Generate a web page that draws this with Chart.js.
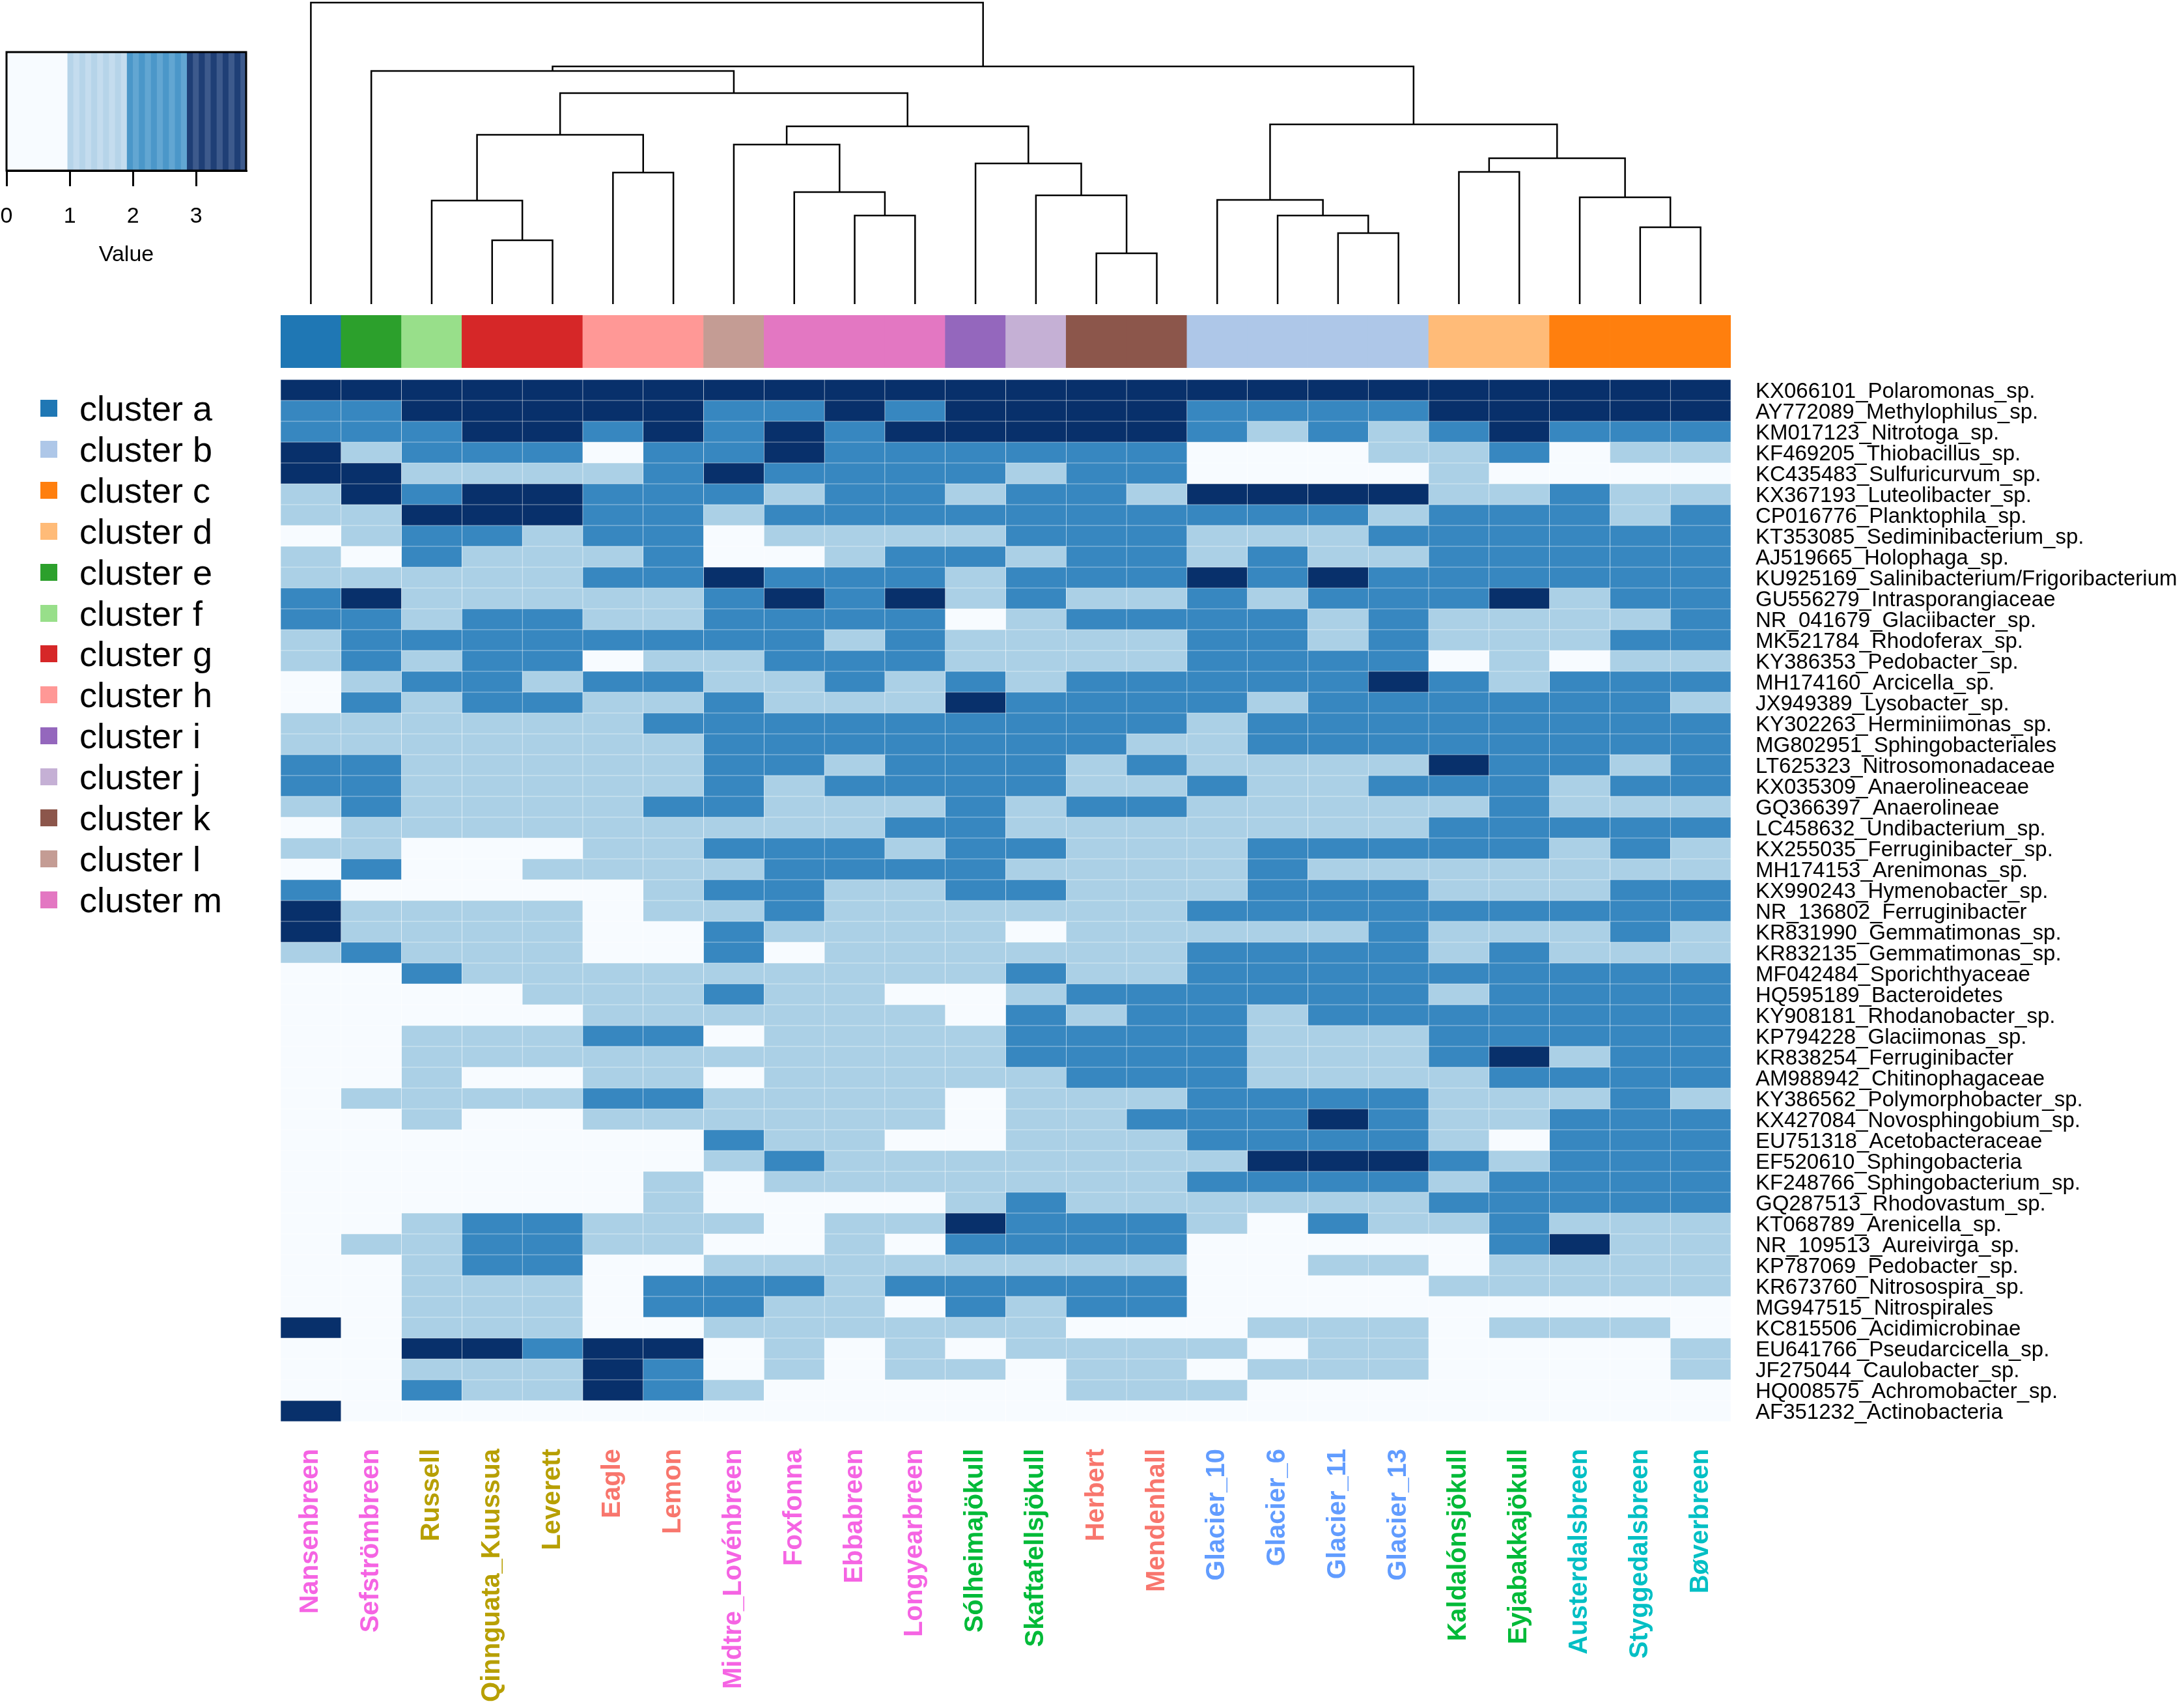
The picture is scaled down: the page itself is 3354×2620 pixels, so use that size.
<!DOCTYPE html>
<html>
<head>
<meta charset="utf-8">
<script src="https://cdn.jsdelivr.net/npm/chart.js@4.4.1/dist/chart.umd.min.js"></script>
<style>
  html, body { margin: 0; padding: 0; background: #fff; overflow: hidden; }
  #page { position: relative; width: 3354px; height: 2620px; font-family: "Liberation Sans", Arial, sans-serif; }
  canvas { position: absolute; }
  .leg { position: absolute; left: 62px; height: 64px; display: flex; align-items: center; font-size: 54px; color: #000; }
  .leg span { display: inline-block; width: 26px; height: 26px; margin-right: 34px; }
</style>
</head>
<body>
<div id="page">
  <canvas id="key" width="398" height="342" style="left:0;top:70px"></canvas>
  <canvas id="dendro" width="2227" height="467" style="left:431px;top:0"></canvas>
  <canvas id="clusterBar" width="2227" height="81" style="left:431px;top:484px"></canvas>
  <canvas id="heat" width="2923" height="2037" style="left:431px;top:583px"></canvas>
</div>
<script>
const FONT = '"Liberation Sans", Arial, sans-serif';
Chart.defaults.font.family = FONT;
Chart.defaults.color = '#000';

// Columns (glaciers), in dendrogram order
const colLabels = ["Nansenbreen","Sefströmbreen","Russell","Qinnguata_Kuussua","Leverett","Eagle","Lemon",
  "Midtre_Lovénbreen","Foxfonna","Ebbabreen","Longyearbreen","Sólheimajökull","Skaftafellsjökull","Herbert",
  "Mendenhall","Glacier_10","Glacier_6","Glacier_11","Glacier_13","Kaldalónsjökull","Eyjabakkajökull",
  "Austerdalsbreen","Styggedalsbreen","Bøverbreen"];
const colColors = ["#F564E3","#F564E3","#B79F00","#B79F00","#B79F00","#F8766D","#F8766D",
  "#F564E3","#F564E3","#F564E3","#F564E3","#00BA38","#00BA38","#F8766D",
  "#F8766D","#619CFF","#619CFF","#619CFF","#619CFF","#00BA38","#00BA38",
  "#00BFC4","#00BFC4","#00BFC4"];
const colClusters = ["a","e","f","g","g","h","h","l","m","m","m","i","j","k","k","b","b","b","b","d","d","c","c","c"];

// Cluster legend
const clusterNames = ["a","b","c","d","e","f","g","h","i","j","k","l","m"];
const clusterColors = ["#1f77b4","#aec7e8","#ff7f0e","#ffbb78","#2ca02c","#98df8a","#d62728",
  "#ff9896","#9467bd","#c5b0d5","#8c564b","#c49c94","#e377c2"];

// Rows (taxa)
const rowLabels = ["KX066101_Polaromonas_sp.","AY772089_Methylophilus_sp.","KM017123_Nitrotoga_sp.",
  "KF469205_Thiobacillus_sp.","KC435483_Sulfuricurvum_sp.","KX367193_Luteolibacter_sp.",
  "CP016776_Planktophila_sp.","KT353085_Sediminibacterium_sp.","AJ519665_Holophaga_sp.",
  "KU925169_Salinibacterium/Frigoribacterium","GU556279_Intrasporangiaceae","NR_041679_Glaciibacter_sp.",
  "MK521784_Rhodoferax_sp.","KY386353_Pedobacter_sp.","MH174160_Arcicella_sp.","JX949389_Lysobacter_sp.",
  "KY302263_Herminiimonas_sp.","MG802951_Sphingobacteriales","LT625323_Nitrosomonadaceae",
  "KX035309_Anaerolineaceae","GQ366397_Anaerolineae","LC458632_Undibacterium_sp.",
  "KX255035_Ferruginibacter_sp.","MH174153_Arenimonas_sp.","KX990243_Hymenobacter_sp.",
  "NR_136802_Ferruginibacter","KR831990_Gemmatimonas_sp.","KR832135_Gemmatimonas_sp.",
  "MF042484_Sporichthyaceae","HQ595189_Bacteroidetes","KY908181_Rhodanobacter_sp.",
  "KP794228_Glaciimonas_sp.","KR838254_Ferruginibacter","AM988942_Chitinophagaceae",
  "KY386562_Polymorphobacter_sp.","KX427084_Novosphingobium_sp.","EU751318_Acetobacteraceae",
  "EF520610_Sphingobacteria","KF248766_Sphingobacterium_sp.","GQ287513_Rhodovastum_sp.",
  "KT068789_Arenicella_sp.","NR_109513_Aureivirga_sp.","KP787069_Pedobacter_sp.",
  "KR673760_Nitrosospira_sp.","MG947515_Nitrospirales","KC815506_Acidimicrobinae",
  "EU641766_Pseudarcicella_sp.","JF275044_Caulobacter_sp.","HQ008575_Achromobacter_sp.",
  "AF351232_Actinobacteria"];

// Binned values (0-3), one line per row, one entry per column
const cellLevels = [
  [3,3,3,3,3,3,3,3,3,3,3,3,3,3,3,3,3,3,3,3,3,3,3,3],
  [2,2,3,3,3,3,3,2,2,3,2,3,3,3,3,2,2,2,2,3,3,3,3,3],
  [2,2,2,3,3,2,3,2,3,2,3,3,3,3,3,2,1,2,1,2,3,2,2,2],
  [3,1,2,2,2,0,2,2,3,2,2,2,2,2,2,0,0,0,1,1,2,0,1,1],
  [3,3,1,1,1,1,2,3,2,2,2,2,1,2,2,0,0,0,0,1,0,0,0,0],
  [1,3,2,3,3,2,2,2,1,2,2,1,2,2,1,3,3,3,3,1,1,2,1,1],
  [1,1,3,3,3,2,2,1,2,2,2,2,2,2,2,2,2,2,1,2,2,2,1,2],
  [0,1,2,2,1,2,2,0,1,1,1,1,2,2,2,1,1,1,2,2,2,2,2,2],
  [1,0,2,1,1,1,2,0,0,1,2,2,1,2,2,1,2,1,1,2,2,2,2,2],
  [1,1,1,1,1,2,2,3,2,2,2,1,2,2,2,3,2,3,2,2,2,2,2,2],
  [2,3,1,1,1,1,1,2,3,2,3,1,2,1,1,2,1,2,2,2,3,1,2,2],
  [2,2,1,2,2,1,1,2,2,2,2,0,1,2,2,2,2,1,2,1,1,1,1,2],
  [1,2,2,2,2,2,2,2,2,1,2,1,1,1,1,2,2,1,2,1,1,1,2,2],
  [1,2,1,2,2,0,1,1,2,2,2,1,1,1,1,2,2,2,2,0,1,0,1,1],
  [0,1,2,2,1,2,2,1,1,2,1,2,1,2,2,2,2,2,3,2,1,2,2,2],
  [0,2,1,2,2,1,1,2,1,1,1,3,2,2,2,2,1,2,2,2,2,2,2,1],
  [1,1,1,1,1,1,2,2,2,2,2,2,2,2,2,1,2,2,2,2,2,2,2,2],
  [1,1,1,1,1,1,1,2,2,2,2,2,2,2,1,1,2,2,2,2,2,2,2,2],
  [2,2,1,1,1,1,1,2,2,1,2,2,2,1,2,1,1,1,1,3,2,2,1,2],
  [2,2,1,1,1,1,1,2,1,2,2,2,2,1,1,2,1,1,2,2,2,1,2,2],
  [1,2,1,1,1,1,2,2,1,1,1,2,1,2,2,1,1,1,1,1,2,1,1,1],
  [0,1,1,1,1,1,1,1,1,1,2,2,1,1,1,1,1,1,1,2,2,2,2,2],
  [1,1,0,0,0,1,1,2,2,2,1,2,2,1,1,1,2,2,2,2,2,1,2,1],
  [0,2,0,0,1,1,1,1,2,2,2,2,1,1,1,1,2,1,1,1,1,1,1,1],
  [2,0,0,0,0,0,1,2,2,1,1,2,2,1,1,1,2,2,2,1,1,1,2,2],
  [3,1,1,1,1,0,1,1,2,1,1,1,1,1,1,2,2,2,2,2,2,2,2,2],
  [3,1,1,1,1,0,0,2,1,1,1,1,0,1,1,1,1,1,2,1,1,1,2,1],
  [1,2,1,1,1,0,0,2,0,1,1,1,1,1,1,2,2,2,2,1,2,1,1,1],
  [0,0,2,1,1,1,1,1,1,1,1,1,2,1,1,2,2,2,2,2,2,2,2,2],
  [0,0,0,0,1,1,1,2,1,1,0,0,1,2,2,2,2,2,2,1,2,2,2,2],
  [0,0,0,0,0,1,1,1,1,1,1,0,2,1,2,2,1,2,2,2,2,2,2,2],
  [0,0,1,1,1,2,2,0,1,1,1,1,2,2,2,2,1,1,1,2,2,2,2,2],
  [0,0,1,1,1,1,1,1,1,1,1,1,2,2,2,2,1,1,1,2,3,1,2,2],
  [0,0,1,0,0,1,1,0,1,1,1,1,1,2,2,2,1,1,1,1,2,2,2,2],
  [0,1,1,1,1,2,2,1,1,1,1,0,1,1,1,2,2,2,2,1,1,1,2,1],
  [0,0,1,0,0,1,1,1,1,1,1,0,1,1,2,2,2,3,2,1,1,2,2,2],
  [0,0,0,0,0,0,0,2,1,1,0,0,1,1,1,2,2,2,2,1,0,2,2,2],
  [0,0,0,0,0,0,0,1,2,1,1,1,1,1,1,1,3,3,3,2,1,2,2,2],
  [0,0,0,0,0,0,1,0,1,1,1,1,1,1,1,2,2,2,2,1,2,2,2,2],
  [0,0,0,0,0,0,1,0,0,0,0,1,2,1,1,1,1,1,1,2,2,2,2,2],
  [0,0,1,2,2,1,1,1,0,1,1,3,2,2,2,1,0,2,1,1,2,1,1,1],
  [0,1,1,2,2,1,1,0,0,1,0,2,2,2,2,0,0,0,0,0,2,3,1,1],
  [0,0,1,2,2,0,0,1,1,1,1,1,1,1,1,0,0,1,1,0,1,1,1,1],
  [0,0,1,1,1,0,2,2,2,1,2,2,2,2,2,0,0,0,0,1,1,1,1,1],
  [0,0,1,1,1,0,2,2,1,1,0,2,1,2,2,0,0,0,0,0,0,0,0,0],
  [3,0,1,1,1,0,0,1,1,1,1,1,1,0,0,0,1,1,1,0,1,1,1,0],
  [0,0,3,3,2,3,3,0,1,0,1,0,1,1,1,1,0,1,1,0,0,0,0,1],
  [0,0,1,1,1,3,2,0,1,0,1,1,0,1,1,0,1,1,1,0,0,0,0,1],
  [0,0,2,1,1,3,2,1,0,0,0,0,0,1,1,1,0,0,0,0,0,0,0,0],
  [3,0,0,0,0,0,0,0,0,0,0,0,0,0,0,0,0,0,0,0,0,0,0,0]
];
const levelColors = ["#f7fbff","#abd0e6","#3787c0","#08306b"];

// Column dendrogram, hclust style: negative = leaf (1-based), positive = earlier merge (1-based)
const dendroLeft   = [-14, -4, -18, -23, -10, -17, -3, -16, -22, -13, -9, -6, -20, -12, 13, -8, 7, 16, 8, 17, -2, 21, -1];
const dendroRight  = [-15, -5, -19, -24, -11,   3,  2,   6,   4,   1,  5, -7, -21,  10,  9, 11, 12, 14, 15, 18, 20, 19, 22];
const dendroHeight = [0.78,0.98,1.09,1.18,1.36,1.36,1.59,1.60,1.64,1.67,1.72,2.02,2.03,2.16,2.24,2.45,2.60,2.73,2.76,3.24,3.58,3.65,4.63];

// Colour key
const keyBreaks = [0, 0.96, 1.9, 2.85, 3.79];
const keyShades = [["#f7fbff"], ["#b6d4e9","#c4dcee"], ["#4b97c9","#62a6d2"], ["#1f3f76","#3d5a8c"]];
const keyTicks = [0, 1, 2, 3];

const noLegend = { legend: { display: false }, tooltip: { enabled: false } };
const hidden = { display: false };

// Legend for clusters
const page = document.getElementById("page");
clusterNames.forEach((n, i) => {
  const d = document.createElement("div");
  d.className = "leg";
  d.style.top = (595 + i * 62.9) + "px";
  d.innerHTML = '<span style="background:' + clusterColors[i] + '"></span>cluster ' + n;
  page.appendChild(d);
});

// Colour key
const keySets = [];
keyShades.forEach((shades, b) => {
  const n = shades.length === 1 ? 1 : 10;
  const step = (keyBreaks[b + 1] - keyBreaks[b]) / n;
  for (let s = 0; s < n; s++) {
    keySets.push({
      data: [[keyBreaks[b] + s * step, keyBreaks[b] + (s + 1) * step]],
      backgroundColor: shades[s % shades.length],
      borderWidth: 0, barPercentage: 1, categoryPercentage: 1, grouped: false
    });
  }
});
new Chart(document.getElementById("key"), {
  type: "bar",
  data: { labels: ["Value"], datasets: keySets },
  options: {
    indexAxis: "y", responsive: false, animation: false,
    layout: { padding: { left: 10, right: 20, top: 10, bottom: 0 } },
    plugins: noLegend,
    scales: {
      y: hidden,
      x: {
        type: "linear", min: keyBreaks[0], max: keyBreaks[keyBreaks.length - 1],
        afterBuildTicks: s => { s.ticks = keyTicks.map(v => ({ value: v })); },
        grid: { drawOnChartArea: false, drawTicks: true, tickLength: 24, color: "#000", lineWidth: 3 },
        border: { display: true, color: "#000", width: 3 },
        ticks: { padding: 26, font: { size: 34 }, color: "#000" },
        title: { display: true, text: "Value", font: { size: 34 }, color: "#000", padding: { top: 0, bottom: 0 } },
        afterFit: s => { s.height = 150; s.paddingLeft = 0; s.paddingRight = 0; }
      }
    }
  },
  plugins: [{
    id: "frame",
    afterDraw(c) {
      const a = c.chartArea, ctx = c.ctx;
      ctx.save(); ctx.strokeStyle = "#000"; ctx.lineWidth = 3;
      ctx.strokeRect(a.left, a.top, a.right - a.left, a.bottom - a.top);
      ctx.restore();
    }
  }]
});

// Dendrogram
const nodeX = [], nodeH = [];
function nodePos(id) { return id < 0 ? [-id - 0.5, 0] : [nodeX[id - 1], nodeH[id - 1]]; }
const dendroSets = dendroLeft.map((l, k) => {
  const [xl, hl] = nodePos(l), [xr, hr] = nodePos(dendroRight[k]), h = dendroHeight[k];
  nodeX.push((xl + xr) / 2); nodeH.push(h);
  return {
    data: [{ x: xl, y: hl }, { x: xl, y: h }, { x: xr, y: h }, { x: xr, y: hr }],
    showLine: true, borderColor: "#000", borderWidth: 2.5, pointRadius: 0, tension: 0, clip: false
  };
});
new Chart(document.getElementById("dendro"), {
  type: "scatter",
  data: { datasets: dendroSets },
  options: {
    responsive: false, animation: false, layout: { padding: 0 }, plugins: noLegend,
    scales: {
      x: { type: "linear", min: 0, max: colLabels.length, display: false },
      y: { type: "linear", min: 0, max: 4.67, display: false }
    }
  }
});

// Cluster colour bar
new Chart(document.getElementById("clusterBar"), {
  type: "bar",
  data: {
    labels: colLabels,
    datasets: [{
      data: colLabels.map(() => 1),
      backgroundColor: colClusters.map(c => clusterColors[clusterNames.indexOf(c)]),
      borderWidth: 0, barPercentage: 1, categoryPercentage: 1
    }]
  },
  options: {
    responsive: false, animation: false, layout: { padding: 0 }, plugins: noLegend,
    scales: { x: hidden, y: { min: 0, max: 1, display: false } }
  }
});

// Heatmap: one stacked dataset per row, each cell a bar of height 1
const heatSets = rowLabels.map((name, r) => ({
  label: name,
  data: colLabels.map(() => 1),
  backgroundColor: cellLevels[r].map(v => levelColors[v]),
  borderColor: "rgba(255,255,255,0.22)", borderWidth: 0.6, borderSkipped: false,
  barPercentage: 1, categoryPercentage: 1
}));
new Chart(document.getElementById("heat"), {
  type: "bar",
  data: { labels: colLabels, datasets: heatSets },
  options: {
    responsive: false, animation: false, layout: { padding: 0 }, plugins: noLegend,
    scales: {
      x: {
        stacked: true,
        grid: { display: false, drawTicks: false }, border: { display: false },
        ticks: {
          autoSkip: false, minRotation: 90, maxRotation: 90, padding: 42,
          color: c => colColors[c.index],
          font: { size: 40, weight: "bold" }
        },
        afterFit: s => { s.height = 437; s.paddingLeft = 0; s.paddingRight = 0; }
      },
      y: {
        stacked: true, position: "right", reverse: true, min: 0, max: rowLabels.length,
        grid: { display: false, drawTicks: false }, border: { display: false },
        afterBuildTicks: s => { s.ticks = rowLabels.map((_, i) => ({ value: i + 0.5 })); },
        ticks: { autoSkip: false, padding: 38, labelOffset: 3, color: "#000", font: { size: 33 },
          callback: v => rowLabels[Math.floor(v)] },
        afterFit: s => { s.width = 696; s.paddingTop = 0; s.paddingBottom = 0; }
      }
    }
  }
});
</script>
</body>
</html>
